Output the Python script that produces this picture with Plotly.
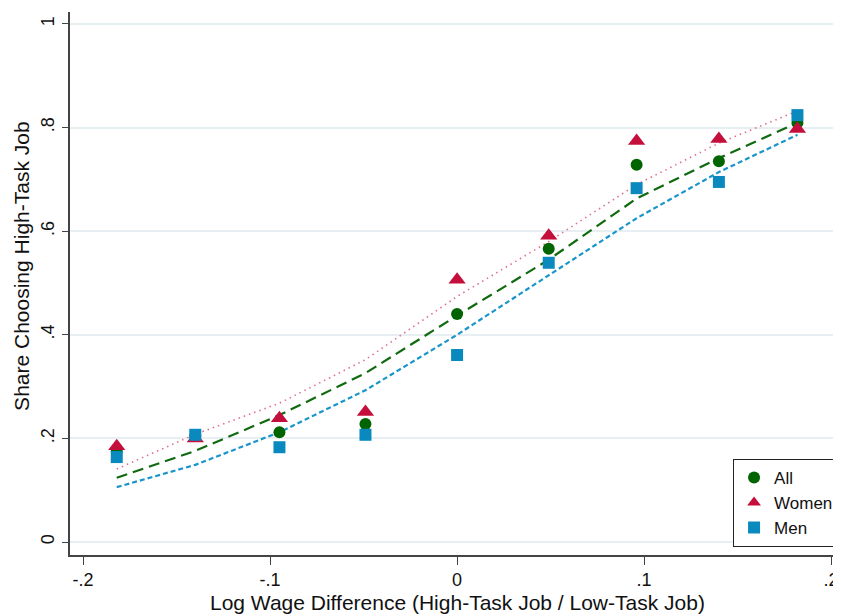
import plotly.graph_objects as go

# Data
x_vals = [-0.182, -0.140, -0.095, -0.049, 0.0, 0.049, 0.096, 0.140, 0.182]
all_share = [0.175, 0.205, 0.212, 0.228, 0.440, 0.566, 0.728, 0.735, 0.809]
women_share = [0.185, 0.200, 0.239, 0.251, 0.506, 0.591, 0.774, 0.778, 0.797]
men_share = [0.164, 0.207, 0.183, 0.207, 0.361, 0.539, 0.683, 0.695, 0.824]

fit_all = [0.124, 0.176, 0.245, 0.326, 0.437, 0.545, 0.663, 0.741, 0.809]
fit_women = [0.141, 0.208, 0.268, 0.352, 0.474, 0.580, 0.690, 0.770, 0.832]
fit_men = [0.106, 0.149, 0.212, 0.293, 0.400, 0.515, 0.625, 0.714, 0.786]

y_ticks = [0, 0.2, 0.4, 0.6, 0.8, 1.0]
y_labels = ["0", ".2", ".4", ".6", ".8", "1"]
x_ticks = [-0.2, -0.1, 0.0, 0.1, 0.2]
x_labels = ["-.2", "-.1", "0", ".1", ".2"]

x_title = "Log Wage Difference (High-Task Job / Low-Task Job)"
y_title = "Share Choosing High-Task Job"

GREEN = "#006400"
RED = "#c40f3c"
BLUE = "#0a89bf"
FONT = "Liberation Sans, Arial, sans-serif"

fig = go.Figure()

fig.add_trace(go.Scatter(x=x_vals, y=fit_women, mode="lines", showlegend=False,
                         line=dict(color="#e0708c", width=1.6, dash="1.5px,4px")))
fig.add_trace(go.Scatter(x=x_vals, y=fit_all, mode="lines", showlegend=False,
                         line=dict(color="#106a10", width=2.2, dash="11px,6px")))
fig.add_trace(go.Scatter(x=x_vals, y=fit_men, mode="lines", showlegend=False,
                         line=dict(color="#1a95cc", width=2.2, dash="5px,3px")))

fig.add_trace(go.Scatter(x=x_vals, y=all_share, mode="markers", name="All",
                         marker=dict(symbol="circle", size=12, color=GREEN, line=dict(width=0))))
fig.add_trace(go.Scatter(x=x_vals, y=women_share, mode="markers", name="Women",
                         marker=dict(symbol="triangle-up", size=15, color=RED, line=dict(width=0))))
fig.add_trace(go.Scatter(x=x_vals, y=men_share, mode="markers", name="Men",
                         marker=dict(symbol="square", size=12, color=BLUE, line=dict(width=0))))

fig.update_layout(
    width=833, height=608,
    margin=dict(l=62, r=0, t=4, b=61),
    paper_bgcolor="white", plot_bgcolor="white",
    font=dict(family=FONT, size=18, color="#111111"),
    showlegend=True,
    legend=dict(x=0.86, y=0.015, xanchor="left", yanchor="bottom",
                bgcolor="white", bordercolor="#222222", borderwidth=1,
                font=dict(family=FONT, size=17, color="#111111"),
                itemsizing="constant", tracegroupgap=2),
    xaxis=dict(range=[-0.207, 0.2053], tickvals=x_ticks, ticktext=x_labels, automargin=False,
               showgrid=False, zeroline=False, showline=True, linecolor="#444444", linewidth=1.5,
               ticks="outside", ticklen=8, tickcolor="#444444", tickwidth=1.2,
               tickfont=dict(family=FONT, size=18)),
    yaxis=dict(range=[-0.025, 1.023], tickvals=y_ticks, ticktext=y_labels, tickangle=-90, automargin=False,
               showgrid=True, gridcolor="#e8eff2", gridwidth=1.5,
               zeroline=False, showline=True, linecolor="#444444", linewidth=1.5,
               ticks="outside", ticklen=6, tickcolor="#444444", tickwidth=1.2,
               ticklabelstandoff=1,
               tickfont=dict(family=FONT, size=18)),
    annotations=[
        dict(text=x_title, xref="x", yref="paper", x=0.0, y=0, xanchor="center", yanchor="middle",
             yshift=-47, showarrow=False, font=dict(family=FONT, size=21, color="#111111")),
        dict(text=y_title, xref="paper", yref="y", x=0, y=0.533, xanchor="center", yanchor="middle",
             xshift=-48, textangle=-90, showarrow=False, font=dict(family=FONT, size=21, color="#111111")),
    ],
)

fig.write_html("out.html")
